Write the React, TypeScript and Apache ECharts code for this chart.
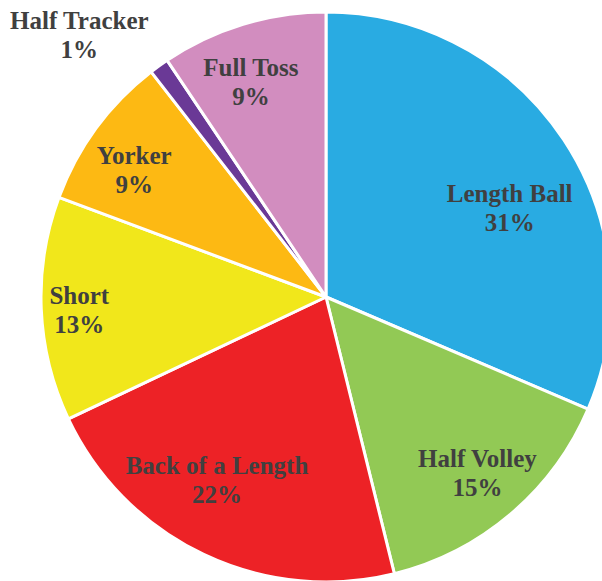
import React, { useEffect, useRef } from "react";
import * as echarts from "echarts";

const categories = ["Length Ball", "Half Volley", "Back of a Length", "Short", "Yorker", "Half Tracker", "Full Toss"];
const shares = [31.4, 14.7, 21.8, 12.7, 8.8, 1.1, 9.4];
const colors = ["#29ABE2", "#92C955", "#ED2226", "#F1E71B", "#FDB913", "#6A3996", "#D28DBF"];

// label placement: angle shift (deg) from slice middle, radius as fraction of pie radius
const labelAngleShift = [7.6, -0.4, 5.4, -0.6, -2.8, -7.4, -2.3];
const labelRadiusFrac = [0.716, 0.814, 0.747, 0.867, 0.807, 1.263, 0.8];

const CX = 326;
const CY = 297;
const R = 285;

export default function App() {
  const ref = useRef<HTMLDivElement>(null);
  useEffect(() => {
    document.body.style.margin = "0";
    if (!ref.current) return;
    const chart = echarts.init(ref.current, undefined, { renderer: "svg" });
    const total = shares.reduce((a, b) => a + b, 0);
    const mids: number[] = [];
    let cum = 0;
    shares.forEach((v) => {
      mids.push(((cum + v / 2) / total) * 360);
      cum += v;
    });
    chart.setOption({
      animation: false,
      backgroundColor: "#ffffff",
      series: [
        {
          type: "pie",
          center: [CX, CY],
          radius: [0, R],
          startAngle: 90,
          clockwise: true,
          avoidLabelOverlap: false,
          itemStyle: { borderColor: "#ffffff", borderWidth: 3 },
          label: {
            show: true,
            position: "inside",
            formatter: (p: any) => `${p.name}\n${Math.round(p.percent)}%`,
            fontFamily: "Liberation Serif",
            fontWeight: "bold",
            fontSize: 25,
            lineHeight: 29,
            color: "#404040",
            align: "center",
          },
          labelLine: { show: false },
          labelLayout: (p: any) => {
            const i = p.dataIndex;
            const a = ((mids[i] + labelAngleShift[i]) * Math.PI) / 180;
            const r = R * labelRadiusFrac[i];
            return {
              x: CX + r * Math.sin(a),
              y: CY - r * Math.cos(a),
              align: "center",
              verticalAlign: "middle",
            };
          },
          emphasis: { disabled: true },
          data: categories.map((name, i) => ({
            name,
            value: shares[i],
            itemStyle: { color: colors[i] },
          })),
        },
      ],
    });
    return () => chart.dispose();
  }, []);
  return <div ref={ref} style={{ width: 602, height: 581 }} />;
}
